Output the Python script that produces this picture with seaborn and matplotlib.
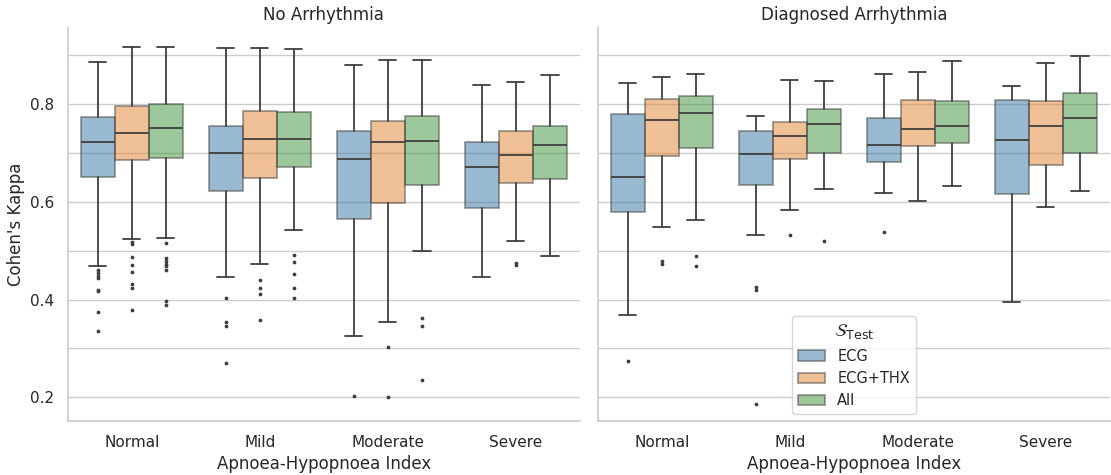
import matplotlib.pyplot as plt
import matplotlib.patches as mpatches
import seaborn as sns

sns.set_theme(style="whitegrid", context="notebook")

categories = ["Normal", "Mild", "Moderate", "Severe"]
modalities = ["ECG", "ECG+THX", "All"]
panel_titles = ["No Arrhythmia", "Diagnosed Arrhythmia"]

# box stats per category: [lower whisker, Q1, median, Q3, upper whisker]
no_arr_ecg = [[0.469, 0.650, 0.722, 0.773, 0.885],
              [0.447, 0.621, 0.700, 0.754, 0.915],
              [0.326, 0.565, 0.688, 0.744, 0.880],
              [0.447, 0.587, 0.670, 0.721, 0.839]]
no_arr_thx = [[0.524, 0.686, 0.741, 0.796, 0.917],
              [0.473, 0.648, 0.729, 0.786, 0.915],
              [0.354, 0.597, 0.721, 0.765, 0.889],
              [0.519, 0.638, 0.696, 0.744, 0.844]]
no_arr_all = [[0.526, 0.690, 0.751, 0.800, 0.917],
              [0.542, 0.670, 0.729, 0.784, 0.913],
              [0.499, 0.635, 0.724, 0.776, 0.890],
              [0.488, 0.646, 0.715, 0.754, 0.858]]
arr_ecg = [[0.369, 0.579, 0.651, 0.779, 0.843],
           [0.531, 0.634, 0.698, 0.745, 0.776],
           [0.618, 0.682, 0.716, 0.771, 0.862],
           [0.395, 0.616, 0.727, 0.808, 0.837]]
arr_thx = [[0.549, 0.693, 0.768, 0.809, 0.855],
           [0.583, 0.687, 0.735, 0.763, 0.849],
           [0.602, 0.713, 0.748, 0.807, 0.866],
           [0.589, 0.674, 0.754, 0.805, 0.883]]
arr_all = [[0.563, 0.710, 0.782, 0.816, 0.862],
           [0.625, 0.699, 0.759, 0.790, 0.846],
           [0.632, 0.719, 0.754, 0.806, 0.888],
           [0.622, 0.699, 0.771, 0.822, 0.898]]

# outliers per category
no_arr_ecg_out = [[0.460, 0.455, 0.449, 0.443, 0.420, 0.417, 0.375, 0.336],
                  [0.404, 0.354, 0.346, 0.270],
                  [0.202],
                  []]
no_arr_thx_out = [[0.517, 0.513, 0.486, 0.470, 0.457, 0.431, 0.424, 0.378],
                  [0.440, 0.424, 0.412, 0.358],
                  [0.302, 0.201],
                  [0.474, 0.470]]
no_arr_all_out = [[0.515, 0.484, 0.479, 0.473, 0.468, 0.460, 0.396, 0.389],
                  [0.491, 0.476, 0.452, 0.424, 0.403],
                  [0.362, 0.345, 0.236],
                  []]
arr_ecg_out = [[0.275], [0.426, 0.419, 0.187], [0.539], []]
arr_thx_out = [[0.479, 0.472], [0.532], [], []]
arr_all_out = [[0.488, 0.469], [0.520], [], []]

panels = [
    [(no_arr_ecg, no_arr_ecg_out), (no_arr_thx, no_arr_thx_out), (no_arr_all, no_arr_all_out)],
    [(arr_ecg, arr_ecg_out), (arr_thx, arr_thx_out), (arr_all, arr_all_out)],
]

colors = [sns.desaturate(c, 0.75) for c in sns.color_palette("tab10", 3)]
line_gray = "#3f3f3f"
box_w = 0.8 / 3

fig, axes = plt.subplots(1, 2, figsize=(11.11, 4.75), dpi=100, sharey=True)
fig.subplots_adjust(left=0.061, right=0.999, bottom=0.113, top=0.941, wspace=0.035)

for ax, title, groups in zip(axes, panel_titles, panels):
    for m, (stats, outs) in enumerate(groups):
        bx = []
        for s, o in zip(stats, outs):
            bx.append(dict(whislo=s[0], q1=s[1], med=s[2], q3=s[3], whishi=s[4], fliers=o))
        pos = [i + (m - 1) * box_w for i in range(len(categories))]
        ax.bxp(bx, positions=pos, widths=box_w, patch_artist=True, manage_ticks=False,
               boxprops=dict(facecolor=colors[m], edgecolor=line_gray, alpha=0.5, linewidth=1.3),
               whiskerprops=dict(color=line_gray, linewidth=1.3),
               capprops=dict(color=line_gray, linewidth=1.3),
               medianprops=dict(color=line_gray, linewidth=1.3),
               flierprops=dict(marker="o", markersize=1.7, markerfacecolor=line_gray,
                               markeredgecolor=line_gray, linestyle="none"))
    ax.set_xticks(range(len(categories)))
    ax.set_xticklabels(categories)
    ax.set_xlim(-0.5, len(categories) - 0.5)
    ax.set_title(title)
    ax.set_xlabel("Apnoea-Hypopnoea Index")
    ax.xaxis.grid(False)
    ax.set_yticks([0.2, 0.4, 0.6, 0.8])
    ax.set_yticks([0.3, 0.5, 0.7, 0.9], minor=True)
    ax.yaxis.grid(True, which="both")
    ax.tick_params(axis="y", which="minor", length=0)

axes[0].set_ylim(0.151, 0.955)
axes[0].set_ylabel("Cohen's Kappa")
sns.despine(fig=fig)

handles = [mpatches.Patch(facecolor=c, edgecolor=line_gray, alpha=0.5, linewidth=1.3, label=l)
           for c, l in zip(colors, modalities)]
axes[1].legend(handles=handles, title=r"$\mathcal{S}_{\mathrm{Test}}$", loc="lower center",
               fontsize=10.5, title_fontsize=13, handlelength=1.9)

fig.savefig("out.png", dpi=100)
